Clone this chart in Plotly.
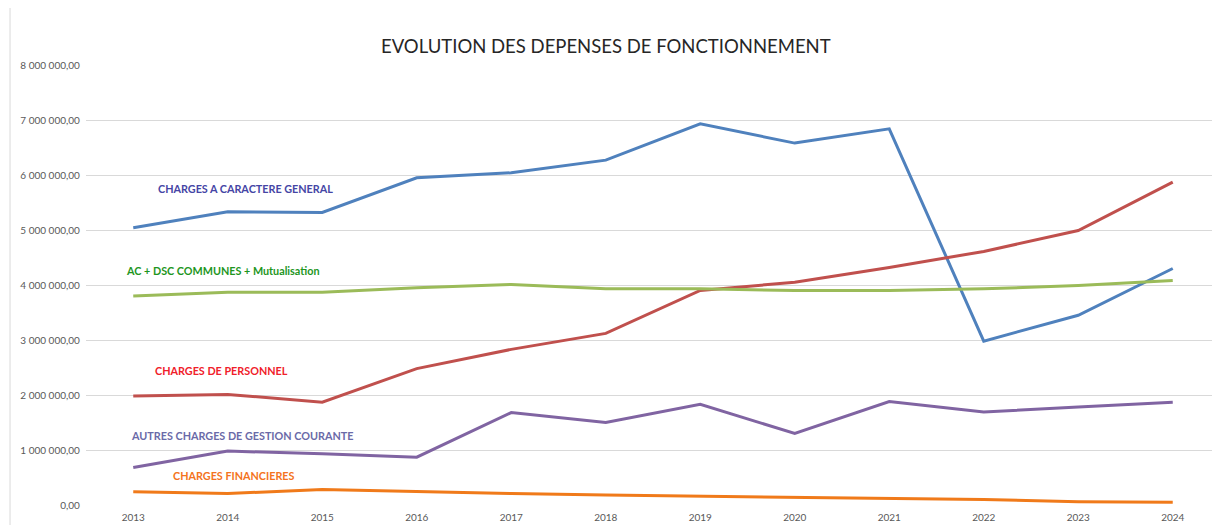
import plotly.graph_objects as go

years = list(range(2013, 2025))

charges_generales = [5.04e6, 5.33e6, 5.32e6, 5.95e6, 6.04e6, 6.27e6, 6.93e6, 6.58e6, 6.84e6, 2.98e6, 3.45e6, 4.30e6]
charges_personnel = [1.98e6, 2.01e6, 1.87e6, 2.48e6, 2.83e6, 3.12e6, 3.90e6, 4.05e6, 4.32e6, 4.61e6, 4.99e6, 5.87e6]
ac_dsc_mutualisation = [3.80e6, 3.87e6, 3.87e6, 3.95e6, 4.01e6, 3.93e6, 3.93e6, 3.90e6, 3.90e6, 3.93e6, 3.99e6, 4.08e6]
autres_charges = [0.68e6, 0.98e6, 0.93e6, 0.87e6, 1.68e6, 1.50e6, 1.83e6, 1.30e6, 1.88e6, 1.69e6, 1.78e6, 1.87e6]
charges_financieres = [0.24e6, 0.21e6, 0.28e6, 0.24e6, 0.21e6, 0.18e6, 0.16e6, 0.14e6, 0.12e6, 0.10e6, 0.06e6, 0.05e6]

series = [
    ('CHARGES A CARACTERE GENERAL', charges_generales, '#4F81BD'),
    ('CHARGES DE PERSONNEL', charges_personnel, '#C0504D'),
    ('AC + DSC COMMUNES + Mutualisation', ac_dsc_mutualisation, '#9BBB59'),
    ('AUTRES CHARGES DE GESTION COURANTE', autres_charges, '#8064A2'),
    ('CHARGES FINANCIERES', charges_financieres, '#F07A1A'),
]

# labels drawn inside the plot, next to the curves (x in years, y in euros)
labels = [
    ('CHARGES A CARACTERE GENERAL', 2014.19, 5.75e6, '#4545A5'),
    ('AC + DSC COMMUNES + Mutualisation', 2013.95, 4.27e6, '#1E961E'),
    ('CHARGES DE PERSONNEL', 2013.93, 2.44e6, '#F0202A'),
    ('AUTRES CHARGES DE GESTION COURANTE', 2014.15, 1.27e6, '#6A6AA8'),
    ('CHARGES FINANCIERES', 2014.07, 0.545e6, '#F47320'),
]

FONT = 'Liberation Sans Narrow, Lato, Arial Narrow, sans-serif'

fig = go.Figure()
for name, vals, color in series:
    fig.add_scatter(x=years, y=vals, name=name, mode='lines',
                    line=dict(color=color, width=3))

for text, x, y, color in labels:
    fig.add_annotation(x=x, y=y, text=f'<b>{text}</b>', showarrow=False,
                       font=dict(family='Lato, sans-serif', size=10.8, color=color))

fig.add_annotation(x=0.4586, y=1.0 + 19 / 440, xref='paper', yref='paper', yanchor='middle',
                   text='EVOLUTION DES DEPENSES DE FONCTIONNEMENT', showarrow=False,
                   font=dict(family='Lato, sans-serif', size=18.5, color='#262626'))

# left frame line of the original chart area
fig.add_shape(type='line', xref='paper', yref='paper', x0=-0.067, x1=-0.067, y0=-0.1, y1=1.2,
              line=dict(color='#D9D9D9', width=1))

fig.update_xaxes(tickmode='array', tickvals=years, range=[2012.5, 2024.5],
                 showgrid=False, zeroline=False, ticks='', ticklabelstandoff=5,
                 tickfont=dict(family=FONT, size=10, color='#595959'))
fig.update_yaxes(range=[0, 8e6], dtick=1e6, tickformat=',.2f',
                 gridcolor='#D9D9D9', gridwidth=1, zeroline=False,
                 tickfont=dict(family=FONT, size=10, color='#595959'), ticksuffix='  ')

# the page adds an 8px body margin, so margins are trimmed by that much
fig.update_layout(
    width=1220, height=525,
    margin=dict(l=78, r=8, t=57, b=28),
    separators=', ',
    showlegend=False,
    plot_bgcolor='white', paper_bgcolor='white',
)

fig.write_html('out.html')
